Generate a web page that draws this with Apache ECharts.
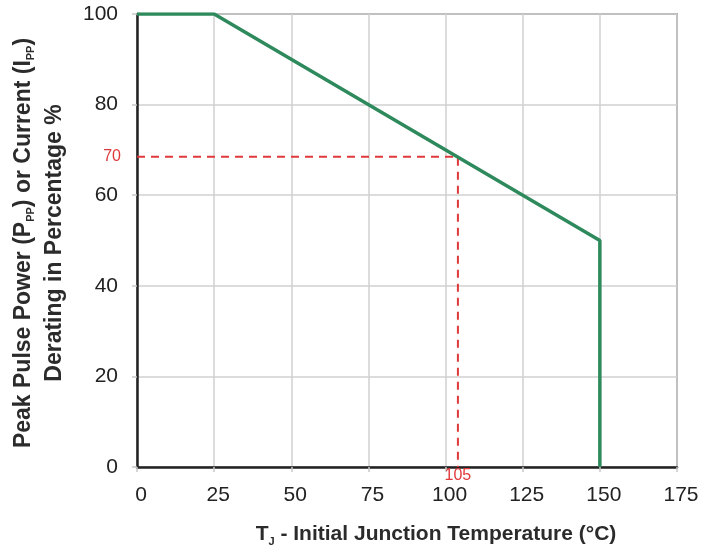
<!DOCTYPE html>
<html>
<head>
<meta charset="utf-8">
<script src="https://cdn.jsdelivr.net/npm/echarts@6/dist/echarts.min.js"></script>
<style>
  html, body { margin: 0; padding: 0; background: #fff; }
  #chart { width: 716px; height: 556px; }
</style>
</head>
<body>
<div id="chart"></div>
<script>
// derating curve
const tempC = [0, 25, 150, 150];
const derating = [100, 100, 50, 0];
// reference marker (drawn position and printed labels)
const markerTemp = 104;
const markerPct = 68.5;
const markerTempLabel = "105";
const markerPctLabel = "70";
const xTicks = [0, 25, 50, 75, 100, 125, 150, 175];
const yTicks = [0, 20, 40, 60, 80, 100];

const curve = tempC.map((t, i) => [t, derating[i]]);
const marker = [
  { value: [0, markerPct], label: { show: true, position: "left", distance: 16, formatter: markerPctLabel } },
  { value: [markerTemp, markerPct] },
  { value: [markerTemp, 0], label: { show: true, position: "bottom", distance: 1, formatter: markerTempLabel } }
];

const chart = echarts.init(document.getElementById("chart"));
const font = "Liberation Sans, Arial, sans-serif";
const titleColor = "#2b2b2b";

function yTitle(text, x, y) {
  return {
    type: "text",
    x: x, y: y,
    rotation: Math.PI / 2,
    style: {
      text: text,
      fill: titleColor,
      font: "bold 23px " + font,
      textAlign: "center", textVerticalAlign: "middle",
      align: "center", verticalAlign: "middle",
      rich: {
        b: { fontSize: 23, fontWeight: "bold", fontFamily: font, fill: titleColor, color: titleColor },
        s: { fontSize: 11, fontWeight: "bold", fontFamily: font, fill: titleColor, color: titleColor, padding: [13, 0, 0, 0] }
      }
    }
  };
}

chart.setOption({
  animation: false,
  textStyle: { fontFamily: font },
  grid: {
    left: 137, right: 39, top: 14, bottom: 89,
    outerBoundsMode: "none",
    containLabel: false,
    show: true, borderColor: "#6a6a6a", borderWidth: 1.5, backgroundColor: "#fff"
  },
  graphic: [
    yTitle("{b|Peak Pulse Power (P}{s|PP}{b|) or Current (I}{s|PP}{b|)}", 24, 243),
    yTitle("{b|Derating in Percentage %}", 55, 243)
  ],
  xAxis: {
    type: "value",
    min: xTicks[0], max: xTicks[xTicks.length - 1], interval: 25,
    name: "{b|T}{s|J}{b| - Initial Junction Temperature (°C)}",
    nameLocation: "middle",
    nameGap: 55,
    nameTruncate: { maxWidth: 800 },
    nameTextStyle: {
      padding: [0, 0, 0, 58],
      rich: {
        b: { fontSize: 21, fontWeight: "bold", color: titleColor, fontFamily: font },
        s: { fontSize: 11, fontWeight: "bold", color: titleColor, fontFamily: font, padding: [14, 0, 0, 0] }
      }
    },
    axisLine: { show: true, onZero: false, lineStyle: { color: "#222", width: 2.5 } },
    axisTick: { show: true, length: 5, lineStyle: { color: "#c8c8c8", width: 1.5 } },
    axisLabel: { fontSize: 21, color: "#222", margin: 18, padding: [0, 0, 0, 8] },
    splitLine: { show: true, lineStyle: { color: "#d0d0d0", width: 1.5 } }
  },
  yAxis: {
    type: "value",
    min: yTicks[0], max: yTicks[yTicks.length - 1], interval: 20,
    axisLine: { show: true, lineStyle: { color: "#222", width: 2.5 } },
    axisTick: { show: true, length: 5, lineStyle: { color: "#c8c8c8", width: 1.5 } },
    axisLabel: { fontSize: 21, color: "#222", margin: 19 },
    splitLine: { show: true, lineStyle: { color: "#d0d0d0", width: 1.5 } }
  },
  series: [
    {
      type: "line",
      data: marker,
      symbol: "circle",
      symbolSize: 0,
      z: 3,
      lineStyle: { color: "#e0393b", width: 2, type: [8, 6] },
      itemStyle: { color: "#e0393b" },
      label: { color: "#e0393b", fontSize: 16, fontFamily: font }
    },
    {
      type: "line",
      data: curve,
      symbol: "none",
      z: 4,
      lineStyle: { color: "#2e8a5c", width: 3.5 }
    }
  ]
});
</script>
</body>
</html>
